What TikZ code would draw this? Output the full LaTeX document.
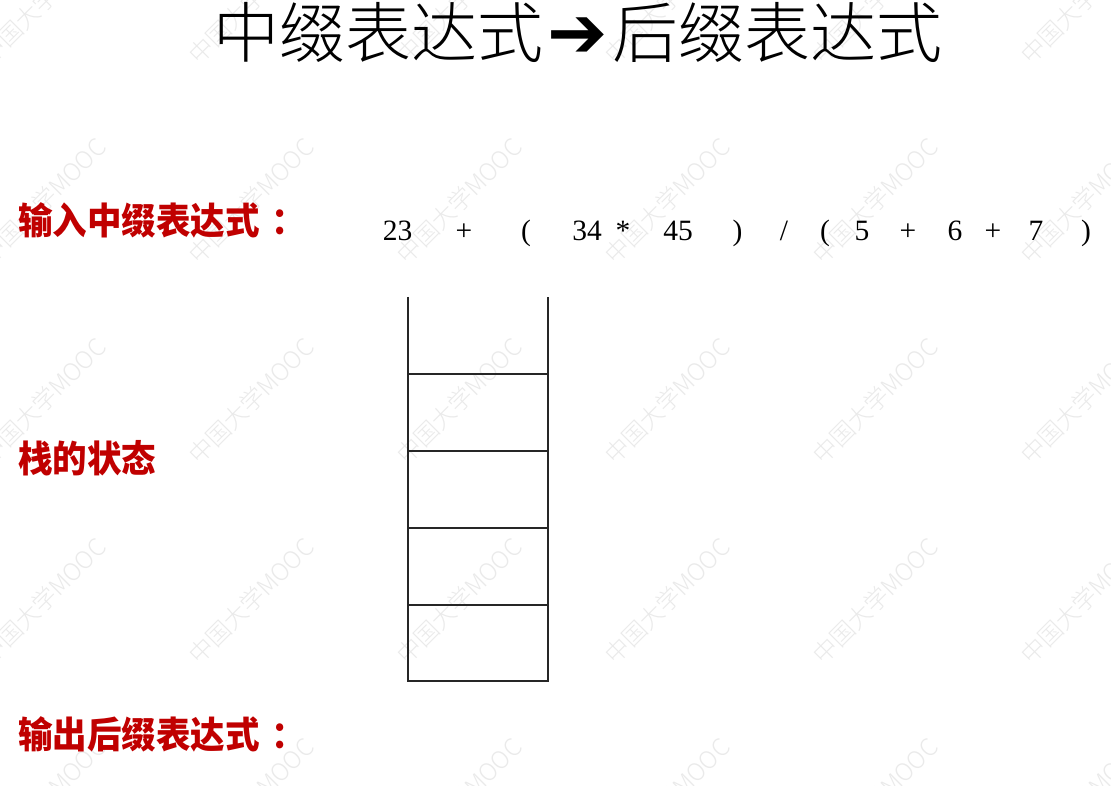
\documentclass[tikz,border=0pt]{standalone}
\usepackage{fontspec}
\setmainfont{Liberation Serif}
\newfontfamily\cjk{Noto Sans CJK SC}
\newfontfamily\cjklight{Noto Sans CJK SC Light}
\newfontfamily\arrowfont{DejaVu Sans}
\definecolor{labelred}{RGB}{192,0,0}
\definecolor{wmgray}{RGB}{234,234,234}
\begin{document}
\begin{tikzpicture}[x=1pt,y=-1pt,
  every node/.style={inner sep=0pt, outer sep=0pt},
  titletext/.style={anchor=base west, font=\cjklight\fontsize{66}{72}\selectfont},
  redlabel/.style={anchor=base west, text=labelred, font=\cjk\bfseries\fontsize{34.5}{40}\selectfont},
  tok/.style={anchor=base, font=\fontsize{29.5}{34}\selectfont},
  wm/.style={rotate=45, text=wmgray, font=\cjklight\fontsize{24}{28}\selectfont},
  stackline/.style={line width=1.9pt, draw=black!85}]
\fill[white] (0,0) rectangle (1111,786);
\useasboundingbox (0,0) rectangle (1111,786);
% watermarks
\foreach \i/\x in {1/43,2/251,3/459,4/667,5/875,6/1083}{
  \foreach \j/\y in {1/1,2/201,3/401,4/601,5/801}{
    \node[wm] (wm\i\j) at (\x,\y) {中国大学MOOC};
  }
}
% title
\node[titletext] (title) at (213,57.5) {中缀表达式\makebox[69pt]{\arrowfont\fontsize{72}{74}\selectfont\raisebox{0pt}{➔}}后缀表达式};
% labels
\node[redlabel] (lin) at (18,235) {\scalebox{1}[1.07]{输入中缀表达式\hspace{12pt}：}};
\node[redlabel] (lstack) at (18,472) {\scalebox{1}[1.07]{栈的状态}};
\node[redlabel] (lout) at (18,748) {\scalebox{1}[1.07]{输出后缀表达式\hspace{12pt}：}};
% expression tokens
\foreach \k/\x/\t in {1/397.5/23, 2/464/+, 3/526/(, 4/587/34, 5/623/*, 6/678/45, 7/737.5/), 8/784/{/}, 9/825/(, 10/862/5, 11/908/+, 12/955/6, 13/993/+, 14/1036/7, 15/1086/)}{
  \node[tok] (t\k) at (\x,241) {\t};
}
% stack
\draw[stackline] (408,297) -- (408,681) -- (548,681) -- (548,297);
\foreach \y in {374,451,528,605}{
  \draw[stackline] (408,\y) -- (548,\y);
}
\end{tikzpicture}
\end{document}
